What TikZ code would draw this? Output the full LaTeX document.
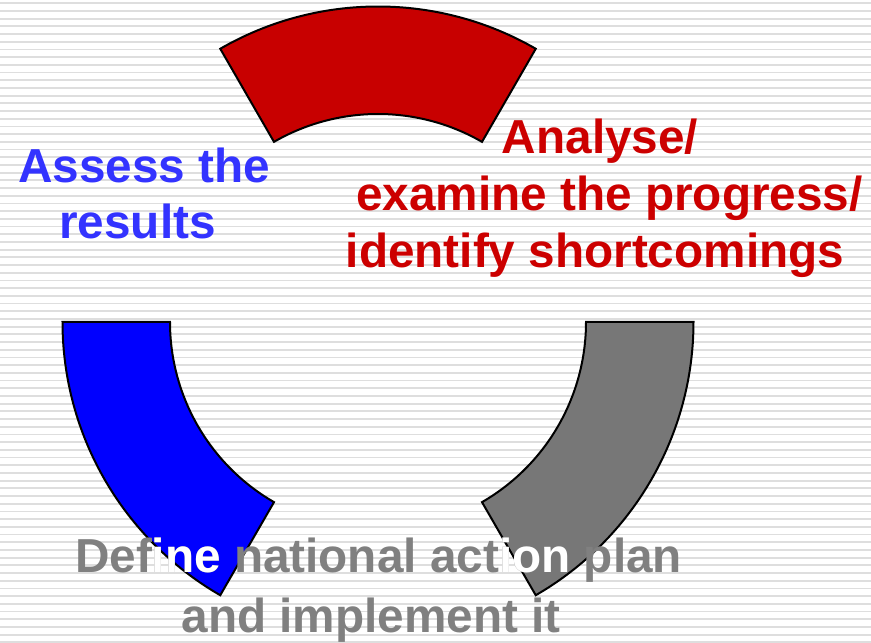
\documentclass[tikz,border=0pt]{standalone}
\usepackage{fontspec}
\setmainfont{Liberation Sans}
\definecolor{stripeC}{RGB}{222,222,222}
\definecolor{redS}{RGB}{200,0,0}
\definecolor{blueS}{RGB}{0,0,255}
\definecolor{grayS}{RGB}{119,119,119}
\definecolor{blueT}{RGB}{51,51,255}
\definecolor{redT}{RGB}{204,0,0}
\definecolor{grayT}{RGB}{128,128,128}
\begin{document}
\begin{tikzpicture}[x=1pt,y=1pt,
  lbl/.style={font=\bfseries\fontsize{47.7}{57}\selectfont, inner sep=0pt, anchor=base},
  sector/.style={draw=black, line width=2pt, line join=miter},
  stripeline/.style={draw=stripeC, line width=1.8pt}]
\useasboundingbox (0,0) rectangle (871,643);
\fill[white] (0,0) rectangle (871,643);
\foreach \k in {0,...,83} {
  \draw[stripeline] (0,{639.7-7.7*\k}) -- (871,{639.7-7.7*\k});
}
\coordinate (C) at (378,321);
% red sector
\path[sector, fill=redS] ([shift={(C)}]60:315.5) arc[start angle=60, end angle=120, radius=315.5]
  -- ([shift={(C)}]120:208) arc[start angle=120, end angle=60, radius=208] -- cycle;
% blue sector
\path[sector, fill=blueS] ([shift={(C)}]180:315.5) arc[start angle=180, end angle=240, radius=315.5]
  -- ([shift={(C)}]240:208) arc[start angle=240, end angle=180, radius=208] -- cycle;
% gray sector
\path[sector, fill=grayS] ([shift={(C)}]300:315.5) arc[start angle=300, end angle=360, radius=315.5]
  -- ([shift={(C)}]360:208) arc[start angle=360, end angle=300, radius=208] -- cycle;
% texts
\node[lbl, text=blueT] (assess1) at (144,460) {Assess the};
\node[lbl, text=blueT] (assess2) at (137.5,404) {results};
\node[lbl, text=redT] (analyse1) at (600,489) {Analyse/};
\node[lbl, text=redT] (analyse2) at (609.5,432) {examine the progress/};
\node[lbl, text=redT] (analyse3) at (595,375) {identify shortcomings};
\node[lbl, text=grayT] (define1) at (378.5,70) {Define national action plan};
\node[lbl, text=grayT] (define2) at (371,10.5) {and implement it};
\begin{scope}
  \clip (153,40) rectangle (232,130);
  \node[lbl, text=white] (define1wa) at (378.5,70) {Define national action plan};
\end{scope}
\begin{scope}
  \clip (500,40) rectangle (580,130);
  \node[lbl, text=white] (define1wb) at (378.5,70) {Define national action plan};
\end{scope}
\end{tikzpicture}
\end{document}
